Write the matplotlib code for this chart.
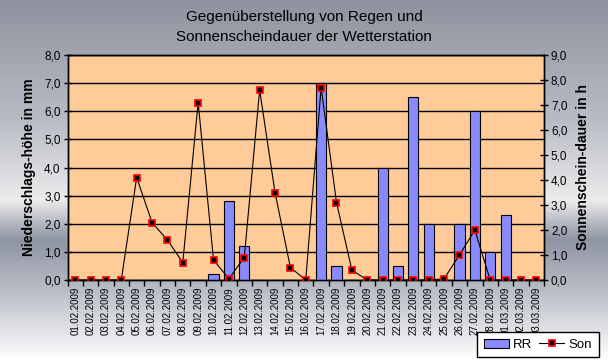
import matplotlib
matplotlib.use("Agg")
import matplotlib.pyplot as plt
from matplotlib.colors import LinearSegmentedColormap
from matplotlib.lines import Line2D
from matplotlib.patches import Patch
import numpy as np

# ── Daten ─────────────────────────────────────────────────────────────────────

dates = ["01.02.2009", "02.02.2009", "03.02.2009", "04.02.2009", "05.02.2009",
         "06.02.2009", "07.02.2009", "08.02.2009", "09.02.2009", "10.02.2009",
         "11.02.2009", "12.02.2009", "13.02.2009", "14.02.2009", "15.02.2009",
         "16.02.2009", "17.02.2009", "18.02.2009", "19.02.2009", "20.02.2009",
         "21.02.2009", "22.02.2009", "23.02.2009", "24.02.2009", "25.02.2009",
         "26.02.2009", "27.02.2009", "28.02.2009", "01.03.2009", "02.03.2009",
         "03.03.2009"]

rr = [0, 0, 0, 0, 0, 0, 0, 0, 0, 0.2,
      2.8, 1.2, 0, 0, 0, 0, 7.0, 0.5, 0, 0,
      4.0, 0.5, 6.5, 2.0, 0, 2.0, 6.0, 1.0, 2.3, 0,
      0]

son = [0, 0, 0, 0, 4.1, 2.3, 1.6, 0.7, 7.1, 0.8,
       0.05, 0.9, 7.6, 3.5, 0.5, 0, 7.7, 3.1, 0.4, 0,
       0, 0, 0, 0, 0.05, 1.0, 2.0, 0, 0, 0,
       0]

left_ticks = np.arange(0, 8.01, 1.0)
right_ticks = np.arange(0, 9.01, 1.0)

# ── Stil ──────────────────────────────────────────────────────────────────────

PLOT_BG = "#ffcc99"
BAR_COL = "#8a8aff"

plt.rcParams.update({
    "font.family": ["Liberation Sans", "DejaVu Sans"],
    "font.size": 9,
})

fig = plt.figure(figsize=(6.08, 3.62), dpi=100)

# Hintergrund-Verlauf (grau, Excel-Stil)
bg = fig.add_axes([0, 0, 1, 1], zorder=-10)
stops = [(0.0, "#8f939f"), (120 / 362, "#b9bcc5"), (200 / 362, "#ececec"),
         (240 / 362, "#8e94a3"), (290 / 362, "#b8bcc5"), (1.0, "#ffffff")]
cmap = LinearSegmentedColormap.from_list("bg", stops)
bg.imshow(np.linspace(0, 1, 362).reshape(-1, 1), aspect="auto", cmap=cmap,
          extent=[0, 1, 1, 0])
bg.set_axis_off()

ax = fig.add_axes([67.5 / 608, 1 - 280 / 362, 476.5 / 608, 225 / 362])
ax.set_facecolor(PLOT_BG)
ax2 = ax.twinx()

x = np.arange(len(dates))

# Regen-Balken
ax.bar(x, rr, width=0.66, color=BAR_COL, edgecolor="black", linewidth=0.8,
       zorder=3)
ax.set_ylim(0, 8)
ax.set_yticks(left_ticks)
ax.set_yticklabels([f"{v:.1f}".replace(".", ",") for v in left_ticks])
ax.grid(True, axis="y", color="black", linewidth=1.0, zorder=1)
ax.set_axisbelow(True)

# Sonnenscheindauer
ax2.plot(x, son, color="black", lw=0.8, marker="s", markersize=5,
         markerfacecolor="black", markeredgecolor="red", markeredgewidth=1.2,
         zorder=5)
ax2.set_ylim(0, 9)
ax2.set_yticks(right_ticks)
ax2.set_yticklabels([f"{v:.1f}".replace(".", ",") for v in right_ticks])

# X-Achse: Striche zwischen den Kategorien, Beschriftung in der Mitte
ax.set_xlim(-0.5, len(dates) - 0.5)
ax.set_xticks(np.arange(-0.5, len(dates), 1.0))
ax.set_xticklabels([])
ax.set_xticks(x, minor=True)
ax.set_xticklabels(dates, minor=True, rotation=90, fontsize=7)
ax.tick_params(axis="x", which="major", direction="out", length=4, width=1)
ax.tick_params(axis="x", which="minor", length=0, pad=5)
ax.tick_params(axis="y", direction="inout", length=6, width=1, labelsize=8.5,
               colors="black", pad=2)
ax2.tick_params(axis="y", direction="inout", length=6, width=1, labelsize=8.5,
                pad=2)

for a in (ax, ax2):
    for s in a.spines.values():
        s.set_color("black")
        s.set_linewidth(1.0)

ax.set_ylabel("Niederschlags-höhe in mm", fontsize=10, fontweight="bold",
              labelpad=6)
ax2.set_ylabel("Sonnenschein-dauer in h", fontsize=10, fontweight="bold",
               labelpad=6)

fig.text(0.5, 1 - 27 / 362,
         "Gegenüberstellung von Regen und\nSonnenscheindauer der Wetterstation",
         ha="center", va="center", fontsize=11, linespacing=1.55)

handles = [Patch(facecolor=BAR_COL, edgecolor="black", linewidth=0.8),
           Line2D([], [], color="black", lw=0.8, marker="s", markersize=5,
                  markerfacecolor="black", markeredgecolor="red",
                  markeredgewidth=1.2)]
leg = fig.legend(handles, ["RR", "Son"], ncol=2, loc="upper left",
                 bbox_to_anchor=(477 / 608, 1 - 332 / 362), fontsize=9.5,
                 frameon=True, fancybox=False, framealpha=1,
                 facecolor="white", edgecolor="black", borderpad=0.5,
                 handlelength=1.9, handletextpad=0.35, columnspacing=0.5,
                 borderaxespad=0)
leg.get_frame().set_linewidth(1.0)

fig.savefig("out.png", dpi=100)
